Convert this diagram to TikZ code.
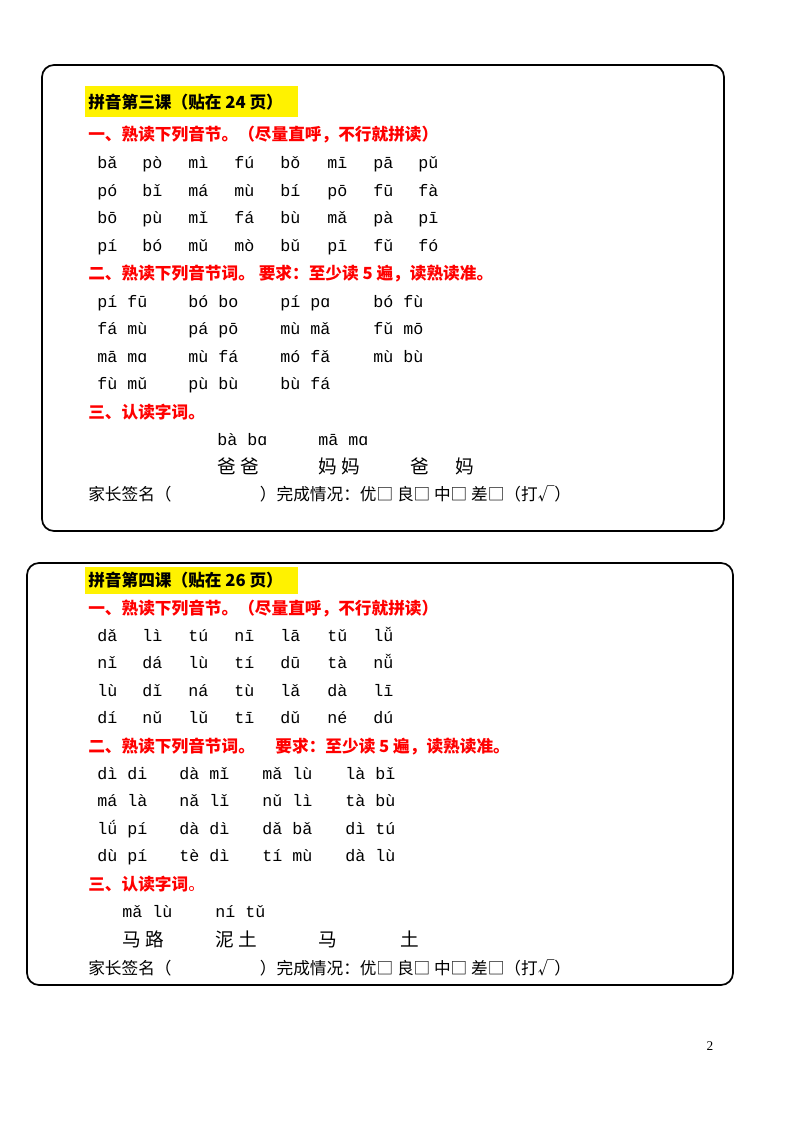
\documentclass[tikz,border=0pt]{standalone}
\usepackage{fontspec}
\setmainfont{Liberation Serif}
\newfontfamily\cjk{Noto Sans CJK SC}
\newfontfamily\py{Liberation Mono}
\begin{document}
\begin{tikzpicture}[x=0.75pt,y=-0.75pt,
 py/.style={anchor=base west,font=\py\fontsize{12.5}{13}\selectfont,inner sep=0},
 rd/.style={anchor=base west,font=\cjk\bfseries\fontsize{12.5}{13}\selectfont,text=red,inner sep=0},
 zh/.style={anchor=base west,font=\cjk\fontsize{12.5}{13}\selectfont,inner sep=0},
 zb/.style={anchor=base west,font=\cjk\fontsize{14}{14}\selectfont,inner sep=0},
 box/.style={draw,line width=1.3pt,rounded corners=9pt}]
\useasboundingbox (0,0) rectangle (800,1130);
\draw[box] (42,65) rectangle (724,531);
\draw[box] (27,563) rectangle (733,985);
\fill[yellow] (85,86) rectangle (298,117);
\fill[yellow] (85,567) rectangle (298,594);
\node[zh,font=\cjk\bfseries\fontsize{12.5}{13}\selectfont] (t1) at (88,109) {拼音第三课（贴在 24 页）};
\node[rd] (r11) at (88,141) {一、熟读下列音节。（尽量直呼，不行就拼读）};
\node[rd] (r12) at (88,280) {二、熟读下列音节词。 要求：至少读 5 遍，读熟读准。};
\node[rd] (r13) at (88,418) {三、认读字词。};
\foreach \r [count=\i] in {{bǎ,pò,mì,fú,bǒ,mī,pā,pǔ},{pó,bǐ,má,mù,bí,pō,fū,fà},{bō,pù,mǐ,fá,bù,mǎ,pà,pī},{pí,bó,mǔ,mò,bǔ,pī,fǔ,fó}}{
 \foreach \s [count=\j] in \r {
  \pgfmathsetmacro\xx{{97,142,188,234,280,327,373,418}[\j-1]}
  \node[py] (a\i\j) at (\xx,{169+(\i-1)*27.5}) {\s};}}
\foreach \r [count=\i] in {{pí fū,bó bo,pí pɑ,bó fù},{fá mù,pá pō,mù mǎ,fǔ mō},{mā mɑ,mù fá,mó fǎ,mù bù},{fù mǔ,pù bù,bù fá}}{
 \foreach \s [count=\j] in \r {
  \pgfmathsetmacro\xx{{97,188,280,373}[\j-1]}
  \node[py] (b\i\j) at (\xx,{307+(\i-1)*27.5}) {\s};}}
\node[py] (c1) at (217,445) {bà bɑ};
\node[py] (c2) at (318,445) {mā mɑ};
\node[zb] (d1) at (217,473) {爸 爸};
\node[zb] (d2) at (318,473) {妈 妈};
\node[zb] (d3) at (410,473) {爸};
\node[zb] (d4) at (455,473) {妈};
\node[zh] (e1) at (88,500) {家长签名（\hspace{5.3em}）完成情况：优□ 良□ 中□ 差□（打√）};
% box 2
\node[zh,font=\cjk\bfseries\fontsize{12.5}{13}\selectfont] (t2) at (88,586) {拼音第四课（贴在 26 页）};
\node[rd] (r21) at (88,614) {一、熟读下列音节。（尽量直呼，不行就拼读）};
\node[rd] (r22) at (88,752) {二、熟读下列音节词。\hspace{1em} 要求：至少读 5 遍，读熟读准。};
\node[rd] (r23) at (88,890) {三、认读字词\textmd{。}};
\foreach \r [count=\i] in {{dǎ,lì,tú,nī,lā,tǔ,lǚ},{nǐ,dá,lù,tí,dū,tà,nǚ},{lù,dǐ,ná,tù,lǎ,dà,lī},{dí,nǔ,lǔ,tī,dǔ,né,dú}}{
 \foreach \s [count=\j] in \r {
  \pgfmathsetmacro\xx{{97,142,188,234,280,327,373}[\j-1]}
  \node[py] (f\i\j) at (\xx,{641+(\i-1)*27.5}) {\s};}}
\foreach \r [count=\i] in {{dì di,dà mǐ,mǎ lù,là bǐ},{má là,nǎ lǐ,nǔ lì,tà bù},{lǘ pí,dà dì,dǎ bǎ,dì tú},{dù pí,tè dì,tí mù,dà lù}}{
 \foreach \s [count=\j] in \r {
  \pgfmathsetmacro\xx{{97,179,262,345}[\j-1]}
  \node[py] (g\i\j) at (\xx,{779+(\i-1)*27.5}) {\s};}}
\node[py] (h1) at (122,917) {mǎ lù};
\node[py] (h2) at (215,917) {ní tǔ};
\node[zb] (k1) at (122,946) {马 路};
\node[zb] (k2) at (215,946) {泥 土};
\node[zb] (k3) at (318,946) {马};
\node[zb] (k4) at (400,946) {土};
\node[zh] (e2) at (88,974) {家长签名（\hspace{5.3em}）完成情况：优□ 良□ 中□ 差□（打√）};
\node[anchor=center,font=\fontsize{10}{10}\selectfont] (pg) at (710,1046) {2};
\end{tikzpicture}
\end{document}
